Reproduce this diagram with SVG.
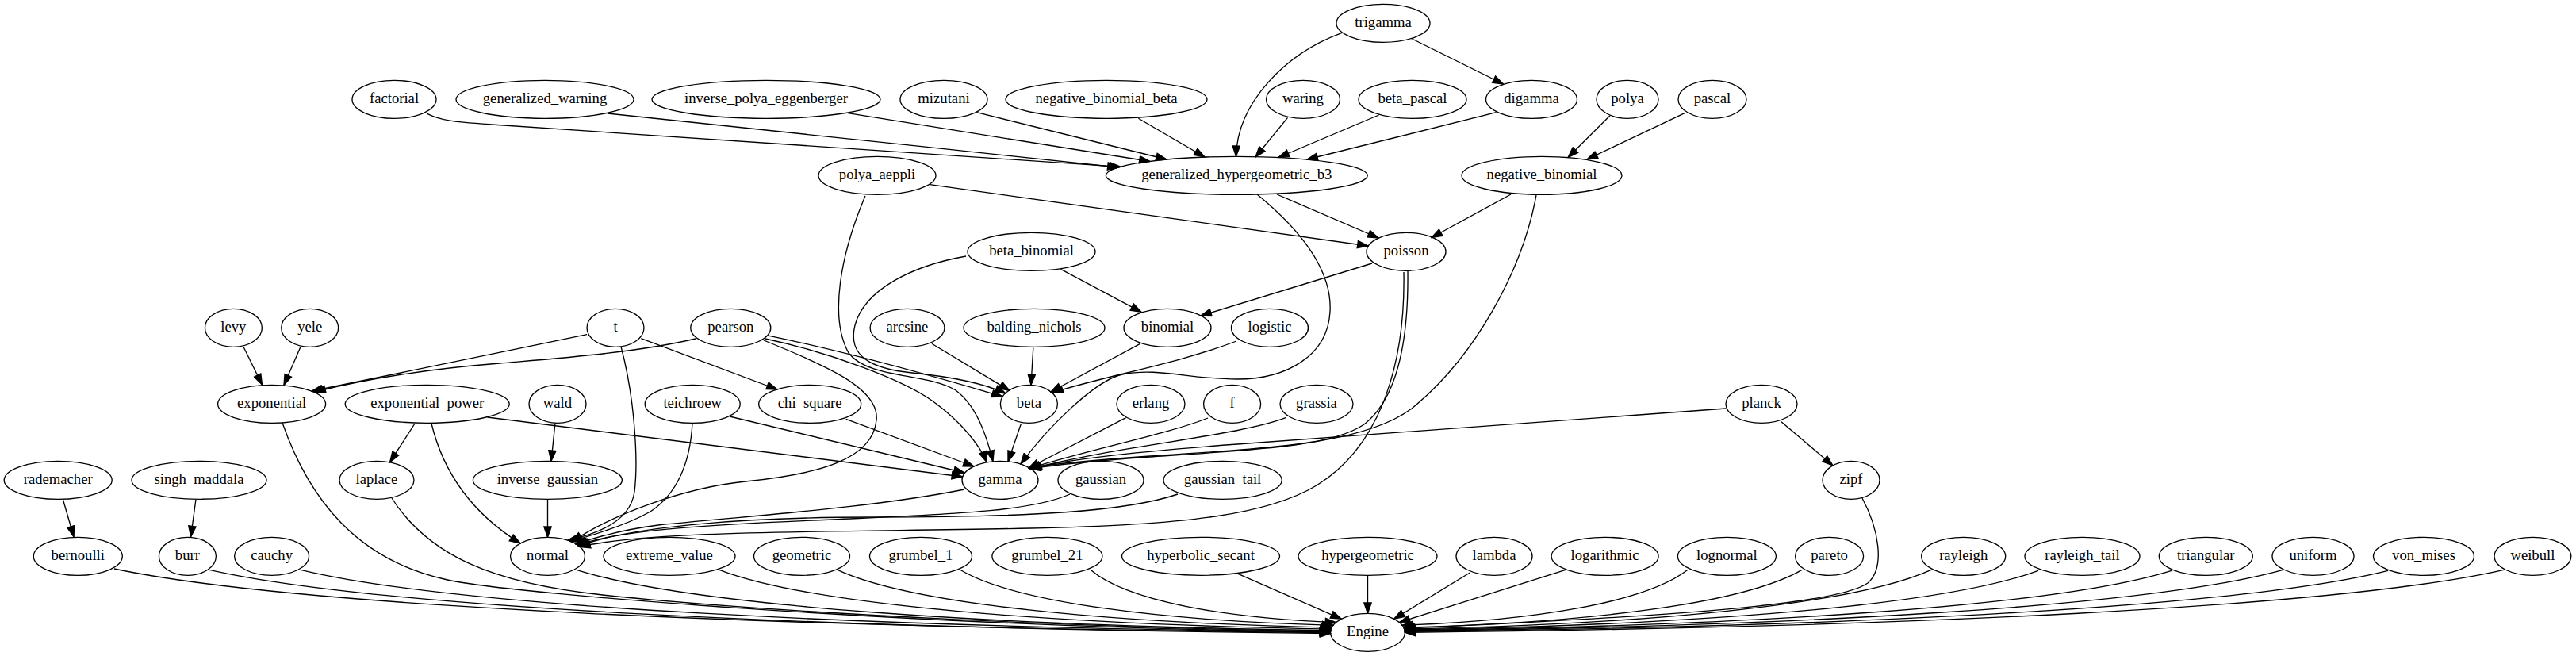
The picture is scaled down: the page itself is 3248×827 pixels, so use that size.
<svg xmlns="http://www.w3.org/2000/svg" width="3248" height="827" viewBox="0 0 3248 827">
<style>
.n ellipse{fill:none;stroke:#000;stroke-width:1.33}
.n text{font-family:"Liberation Serif","Times New Roman",serif;font-size:18.67px;text-anchor:middle;fill:#000}
#edges path{fill:none;stroke:#000;stroke-width:1.33;marker-end:url(#ah)}
</style>
<defs>
<marker id="ah" markerUnits="userSpaceOnUse" markerWidth="15.33" markerHeight="11.33" viewBox="-1 -1 15.33 11.33" refX="13.33" refY="4.67" orient="auto">
<path d="M0,0 L13.33,4.67 L0,9.33 z" fill="#000" stroke="#000" stroke-width="1.33"/>
</marker>
</defs>
<rect width="3248" height="827" fill="#fff"/>
<g id="edges">
<path d="M1780.4,49 L1895.5,106"/>
<path d="M1691.5,41.7 C1620,68 1560,130 1558.5,197.3"/>
<path d="M538.7,143.3 C560,154 585,154 620,157 L1413,210.3"/>
<path d="M766,143 C850,153 1200,188 1410,211"/>
<path d="M1069.3,142.7 L1450,203.5"/>
<path d="M1231.5,141.7 L1471,201"/>
<path d="M1435.4,149.3 L1519,198"/>
<path d="M1623.5,148.3 L1583,198"/>
<path d="M1738.6,145 L1612,198.5"/>
<path d="M1886.6,141.7 L1648,201"/>
<path d="M2030,145.7 L1977,198.5"/>
<path d="M2124.6,142.3 L2001,201"/>
<path d="M1610,245 L1738,300"/>
<path d="M1172.4,232.7 L1725,310"/>
<path d="M1905,245 L1805,299.5"/>
<path d="M1585,245 C1640,290 1680,340 1677,393 C1674,450 1620,478 1560,478 C1500,478 1460,463 1415,472 C1380,480 1320,540 1287,585"/>
<path d="M1091,247 C1060,320 1045,400 1070,445 C1095,478 1170,470 1205,492 C1232,512 1244,550 1252,581.5"/>
<path d="M1937,246 C1920,340 1860,450 1780,515 C1720,560 1600,565 1450,575 C1380,580 1330,584 1297,590"/>
<path d="M1775,341.5 C1776,420 1765,500 1720,535 C1680,562 1600,566 1450,576 C1380,581 1330,586 1299,591"/>
<path d="M1337.5,339.3 L1439,393.3"/>
<path d="M1218,323 C1150,335 1090,365 1078,410 C1068,450 1100,465 1150,470 C1200,475 1240,483 1268,496"/>
<path d="M1730,332 L1514,398"/>
<path d="M307,437.3 L330.5,485"/>
<path d="M379,437.3 L358,485.5"/>
<path d="M740,421.7 L393,493"/>
<path d="M877,427 C800,445 700,452 630,458 C540,465 460,478 397,494"/>
<path d="M808.3,426.7 L980,491"/>
<path d="M783,437 C800,500 805,580 800,620 C795,655 760,672 716,681"/>
<path d="M970,423.3 C1050,440 1150,466 1264,500"/>
<path d="M965,427 C1050,445 1140,480 1175,505 C1210,530 1235,560 1244,582.5"/>
<path d="M963,429 C1040,460 1110,490 1105,530 C1100,580 1030,598 940,607 C860,615 770,650 721,683"/>
<path d="M1175,433.3 L1273,492.5"/>
<path d="M1302.8,438.3 L1300,485.3"/>
<path d="M1437.5,433.3 L1325,494"/>
<path d="M1559,430 C1480,460 1400,472 1327,495"/>
<path d="M356,533 C390,630 450,705 560,730 C640,750 1200,792 1677.5,796.5"/>
<path d="M523,534 L491.6,582.7"/>
<path d="M544,534 C560,600 600,650 656,685"/>
<path d="M614.5,526 L1213.5,601"/>
<path d="M700,533.3 L695,581.3"/>
<path d="M690.5,629.3 L690.5,677.3"/>
<path d="M920,525 L1216,596"/>
<path d="M1066.7,528.3 L1228,588"/>
<path d="M873,533 C870,590 850,625 820,645 C790,662 750,674 719,682.5"/>
<path d="M1287.5,534 L1271,582"/>
<path d="M1419.6,526.7 L1297,590"/>
<path d="M1523,527 C1470,548 1380,565 1298,590.5"/>
<path d="M1621,526.7 C1560,550 1420,560 1299,591"/>
<path d="M2176,515 L1560,560 C1450,568 1350,578 1300,590.5"/>
<path d="M2246,531.7 L2311,587"/>
<path d="M79.5,630 L93,676.7"/>
<path d="M246.9,630 L240.6,676.7"/>
<path d="M494,628 C540,700 620,735 760,750 C1000,775 1400,792 1677.6,796"/>
<path d="M1216,617 C1100,640 950,650 830,662 C790,667 755,676 726,686"/>
<path d="M1349,623 C1300,645 1200,648 1050,655 C900,661 780,668 728,687.5"/>
<path d="M1485,623 C1420,645 1300,652 1100,652 C950,652 800,662 729.5,688.5"/>
<path d="M1770,343 C1772,450 1745,560 1660,612 C1600,648 1500,662 1300,666 C1050,671 820,668 731,689.5"/>
<path d="M2348,628 C2368,665 2378,715 2355,735 C2320,760 2150,775 1770.5,792.3"/>
<path d="M144,717 C374,765.4 987.4,791.2 1677.5,797.7"/>
<path d="M264,718.3 C476,766.5 1041.5,792.2 1677.6,798.6"/>
<path d="M379,718.3 C573.8,765.5 1093.2,790.6 1677.5,796.9"/>
<path d="M727,718.3 C869.6,764.2 1250,788.7 1677.8,794.8"/>
<path d="M907,718.3 C1022.7,763.2 1331.2,787.1 1678.2,793.1"/>
<path d="M1056,718.3 C1149.5,762 1398.7,785.3 1679.1,791.1"/>
<path d="M1210.6,718.3 C1281.1,760.3 1469.3,782.7 1680.9,788.3"/>
<path d="M1375,718.3 C1421.4,758.1 1545.3,779.3 1684.6,784.6"/>
<path d="M1561,723.3 L1691.3,780.3"/>
<path d="M1724.5,725.3 L1724.5,773.3"/>
<path d="M1853.7,721.7 L1757.7,780.3"/>
<path d="M1974,718.3 L1764.4,784.6"/>
<path d="M2128,718.3 C2074,760.3 1930,782.7 1768.1,788.3"/>
<path d="M2272,718.3 C2196.7,762 1995.8,785.3 1769.9,791.1"/>
<path d="M2435,718.3 C2335.4,763.2 2069.7,787.1 1770.8,793.1"/>
<path d="M2570,719.3 C2450.1,764.1 2130.6,788 1771,794"/>
<path d="M2738,719.3 C2593,764.6 2206.3,788.8 1771.2,794.8"/>
<path d="M2878.6,718.3 C2712.5,764.7 2269.6,789.4 1771.4,795.6"/>
<path d="M3011,719.3 C2825.1,765.6 2329.3,790.3 1771.5,796.5"/>
<path d="M3157,718.3 C2949.2,765.7 2395,791 1771.5,797.3"/>
</g>
<g id="trigamma" class="n"><ellipse cx="1744" cy="29.3" rx="59" ry="24"/><text x="1744" y="34.3">trigamma</text></g>
<g id="factorial" class="n"><ellipse cx="497" cy="125.3" rx="53" ry="24"/><text x="497" y="130.3">factorial</text></g>
<g id="generalized_warning" class="n"><ellipse cx="687" cy="125.3" rx="112" ry="24"/><text x="687" y="130.3">generalized_warning</text></g>
<g id="inverse_polya_eggenberger" class="n"><ellipse cx="966" cy="125.3" rx="144" ry="24"/><text x="966" y="130.3">inverse_polya_eggenberger</text></g>
<g id="mizutani" class="n"><ellipse cx="1190" cy="125.3" rx="55" ry="24"/><text x="1190" y="130.3">mizutani</text></g>
<g id="negative_binomial_beta" class="n"><ellipse cx="1395" cy="125.3" rx="127" ry="24"/><text x="1395" y="130.3">negative_binomial_beta</text></g>
<g id="waring" class="n"><ellipse cx="1643" cy="125.3" rx="46.5" ry="24"/><text x="1643" y="130.3">waring</text></g>
<g id="beta_pascal" class="n"><ellipse cx="1781" cy="125.3" rx="68" ry="24"/><text x="1781" y="130.3">beta_pascal</text></g>
<g id="digamma" class="n"><ellipse cx="1931" cy="125.3" rx="57.5" ry="24"/><text x="1931" y="130.3">digamma</text></g>
<g id="polya" class="n"><ellipse cx="2052" cy="125.3" rx="39" ry="24"/><text x="2052" y="130.3">polya</text></g>
<g id="pascal" class="n"><ellipse cx="2159" cy="125.3" rx="43" ry="24"/><text x="2159" y="130.3">pascal</text></g>
<g id="polya_aeppli" class="n"><ellipse cx="1106" cy="221.3" rx="74" ry="24"/><text x="1106" y="226.3">polya_aeppli</text></g>
<g id="generalized_hypergeometric_b3" class="n"><ellipse cx="1559.3" cy="221.3" rx="165" ry="24"/><text x="1559.3" y="226.3">generalized_hypergeometric_b3</text></g>
<g id="negative_binomial" class="n"><ellipse cx="1944" cy="221.3" rx="101" ry="24"/><text x="1944" y="226.3">negative_binomial</text></g>
<g id="beta_binomial" class="n"><ellipse cx="1300.5" cy="317.3" rx="80.5" ry="24"/><text x="1300.5" y="322.3">beta_binomial</text></g>
<g id="poisson" class="n"><ellipse cx="1773" cy="317.3" rx="50" ry="24"/><text x="1773" y="322.3">poisson</text></g>
<g id="levy" class="n"><ellipse cx="294.4" cy="413.3" rx="36" ry="24"/><text x="294.4" y="418.3">levy</text></g>
<g id="yele" class="n"><ellipse cx="390.7" cy="413.3" rx="36" ry="24"/><text x="390.7" y="418.3">yele</text></g>
<g id="t" class="n"><ellipse cx="776" cy="413.3" rx="36" ry="24"/><text x="776" y="418.3">t</text></g>
<g id="pearson" class="n"><ellipse cx="921.3" cy="413.3" rx="50.5" ry="24"/><text x="921.3" y="418.3">pearson</text></g>
<g id="arcsine" class="n"><ellipse cx="1144" cy="413.3" rx="47" ry="24"/><text x="1144" y="418.3">arcsine</text></g>
<g id="balding_nichols" class="n"><ellipse cx="1304" cy="413.3" rx="89" ry="24"/><text x="1304" y="418.3">balding_nichols</text></g>
<g id="binomial" class="n"><ellipse cx="1472" cy="413.3" rx="55" ry="24"/><text x="1472" y="418.3">binomial</text></g>
<g id="logistic" class="n"><ellipse cx="1601" cy="413.3" rx="48.5" ry="24"/><text x="1601" y="418.3">logistic</text></g>
<g id="exponential" class="n"><ellipse cx="342.6" cy="509.3" rx="68" ry="24"/><text x="342.6" y="514.3">exponential</text></g>
<g id="exponential_power" class="n"><ellipse cx="538.7" cy="509.3" rx="103.5" ry="24"/><text x="538.7" y="514.3">exponential_power</text></g>
<g id="wald" class="n"><ellipse cx="703" cy="509.3" rx="36" ry="24"/><text x="703" y="514.3">wald</text></g>
<g id="teichroew" class="n"><ellipse cx="873.2" cy="509.3" rx="60" ry="24"/><text x="873.2" y="514.3">teichroew</text></g>
<g id="chi_square" class="n"><ellipse cx="1021.2" cy="509.3" rx="64.5" ry="24"/><text x="1021.2" y="514.3">chi_square</text></g>
<g id="beta" class="n"><ellipse cx="1297.4" cy="509.3" rx="36" ry="24"/><text x="1297.4" y="514.3">beta</text></g>
<g id="erlang" class="n"><ellipse cx="1451" cy="509.3" rx="43" ry="24"/><text x="1451" y="514.3">erlang</text></g>
<g id="f" class="n"><ellipse cx="1553.6" cy="509.3" rx="36" ry="24"/><text x="1553.6" y="514.3">f</text></g>
<g id="grassia" class="n"><ellipse cx="1660" cy="509.3" rx="46" ry="24"/><text x="1660" y="514.3">grassia</text></g>
<g id="planck" class="n"><ellipse cx="2221" cy="509.3" rx="45" ry="24"/><text x="2221" y="514.3">planck</text></g>
<g id="rademacher" class="n"><ellipse cx="73.2" cy="605.3" rx="68" ry="24"/><text x="73.2" y="610.3">rademacher</text></g>
<g id="singh_maddala" class="n"><ellipse cx="251" cy="605.3" rx="85" ry="24"/><text x="251" y="610.3">singh_maddala</text></g>
<g id="laplace" class="n"><ellipse cx="475" cy="605.3" rx="47" ry="24"/><text x="475" y="610.3">laplace</text></g>
<g id="inverse_gaussian" class="n"><ellipse cx="690.4" cy="605.3" rx="94" ry="24"/><text x="690.4" y="610.3">inverse_gaussian</text></g>
<g id="gamma" class="n"><ellipse cx="1261" cy="605.3" rx="48" ry="24"/><text x="1261" y="610.3">gamma</text></g>
<g id="gaussian" class="n"><ellipse cx="1388" cy="605.3" rx="54" ry="24"/><text x="1388" y="610.3">gaussian</text></g>
<g id="gaussian_tail" class="n"><ellipse cx="1541.6" cy="605.3" rx="74.6" ry="24"/><text x="1541.6" y="610.3">gaussian_tail</text></g>
<g id="zipf" class="n"><ellipse cx="2334" cy="605.3" rx="36" ry="24"/><text x="2334" y="610.3">zipf</text></g>
<g id="bernoulli" class="n"><ellipse cx="98.3" cy="701.3" rx="56" ry="24"/><text x="98.3" y="706.3">bernoulli</text></g>
<g id="burr" class="n"><ellipse cx="236.4" cy="701.3" rx="36" ry="24"/><text x="236.4" y="706.3">burr</text></g>
<g id="cauchy" class="n"><ellipse cx="342.6" cy="701.3" rx="47" ry="24"/><text x="342.6" y="706.3">cauchy</text></g>
<g id="normal" class="n"><ellipse cx="690.5" cy="701.3" rx="47" ry="24"/><text x="690.5" y="706.3">normal</text></g>
<g id="extreme_value" class="n"><ellipse cx="844" cy="701.3" rx="83" ry="24"/><text x="844" y="706.3">extreme_value</text></g>
<g id="geometric" class="n"><ellipse cx="1011" cy="701.3" rx="60.5" ry="24"/><text x="1011" y="706.3">geometric</text></g>
<g id="grumbel_1" class="n"><ellipse cx="1161" cy="701.3" rx="64.5" ry="24"/><text x="1161" y="706.3">grumbel_1</text></g>
<g id="grumbel_21" class="n"><ellipse cx="1320.4" cy="701.3" rx="69.5" ry="24"/><text x="1320.4" y="706.3">grumbel_21</text></g>
<g id="hyperbolic_secant" class="n"><ellipse cx="1514" cy="701.3" rx="99.5" ry="24"/><text x="1514" y="706.3">hyperbolic_secant</text></g>
<g id="hypergeometric" class="n"><ellipse cx="1724.5" cy="701.3" rx="87.5" ry="24"/><text x="1724.5" y="706.3">hypergeometric</text></g>
<g id="lambda" class="n"><ellipse cx="1884" cy="701.3" rx="48" ry="24"/><text x="1884" y="706.3">lambda</text></g>
<g id="logarithmic" class="n"><ellipse cx="2023.6" cy="701.3" rx="67.5" ry="24"/><text x="2023.6" y="706.3">logarithmic</text></g>
<g id="lognormal" class="n"><ellipse cx="2177.4" cy="701.3" rx="62" ry="24"/><text x="2177.4" y="706.3">lognormal</text></g>
<g id="pareto" class="n"><ellipse cx="2306.6" cy="701.3" rx="43" ry="24"/><text x="2306.6" y="706.3">pareto</text></g>
<g id="rayleigh" class="n"><ellipse cx="2475.7" cy="701.3" rx="53" ry="24"/><text x="2475.7" y="706.3">rayleigh</text></g>
<g id="rayleigh_tail" class="n"><ellipse cx="2625.5" cy="701.3" rx="72.5" ry="24"/><text x="2625.5" y="706.3">rayleigh_tail</text></g>
<g id="triangular" class="n"><ellipse cx="2781.3" cy="701.3" rx="59" ry="24"/><text x="2781.3" y="706.3">triangular</text></g>
<g id="uniform" class="n"><ellipse cx="2916.5" cy="701.3" rx="51.5" ry="24"/><text x="2916.5" y="706.3">uniform</text></g>
<g id="von_mises" class="n"><ellipse cx="3056" cy="701.3" rx="63.5" ry="24"/><text x="3056" y="706.3">von_mises</text></g>
<g id="weibull" class="n"><ellipse cx="3193.4" cy="701.3" rx="48.4" ry="24"/><text x="3193.4" y="706.3">weibull</text></g>
<g id="Engine" class="n"><ellipse cx="1724.5" cy="797.3" rx="47" ry="24"/><text x="1724.5" y="802.3">Engine</text></g>
</svg>
